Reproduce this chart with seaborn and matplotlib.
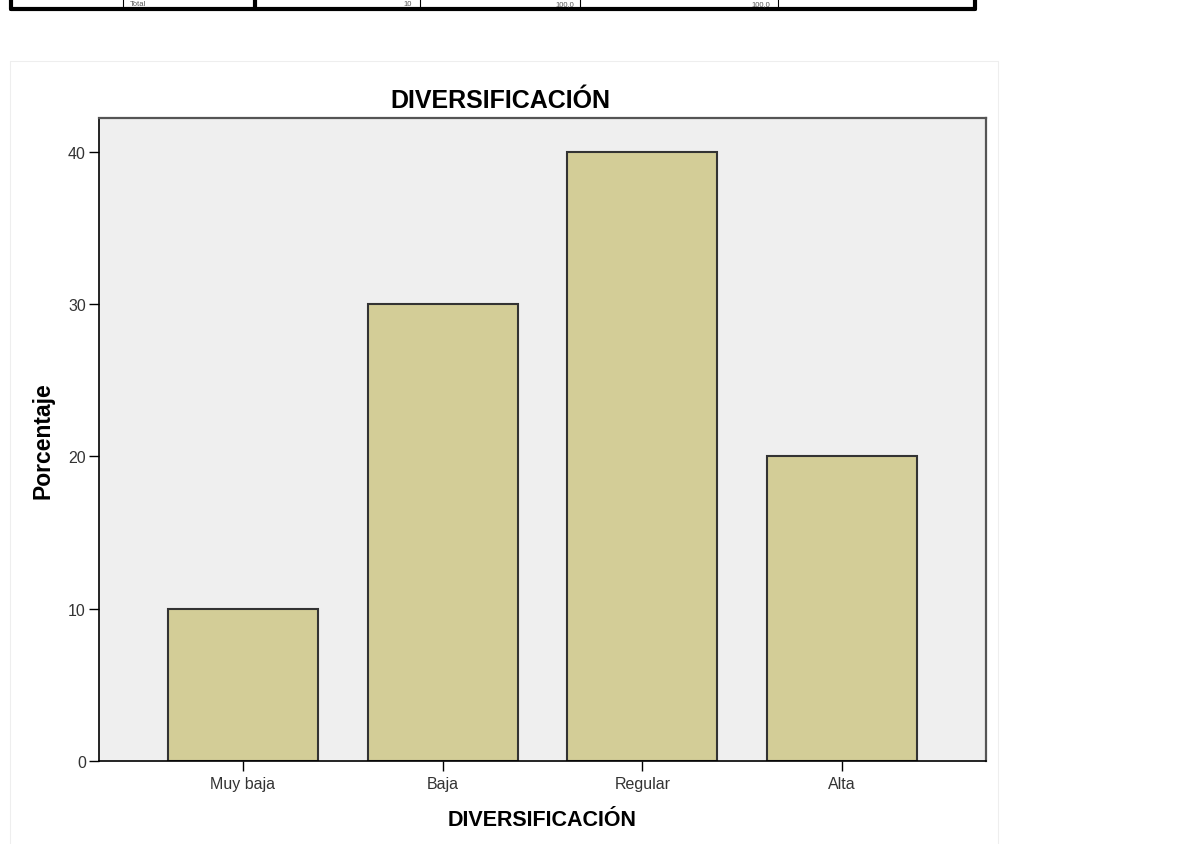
import matplotlib
matplotlib.use("Agg")
import matplotlib.pyplot as plt
from matplotlib.lines import Line2D
import seaborn as sns
import pandas as pd

# Frequency table (percent) for the DIVERSIFICACIÓN variable
categories = ["Muy baja", "Baja", "Regular", "Alta"]
percentages = [10, 30, 40, 20]
y_ticks = [0, 10, 20, 30, 40]

# Last row of the preceding frequency table, at the top of the page
table_row = ["Total", "10", "100,0", "100,0"]

df = pd.DataFrame({"categoria": categories, "porcentaje": percentages})

sns.set_theme(style="white")
plt.rcParams["font.family"] = ["Liberation Sans", "DejaVu Sans"]

fig = plt.figure(figsize=(11.81, 8.45), dpi=100)
W, H = 1181, 845


def fx(px):
    return px / W


def fy(py):
    return 1 - py / H


# Bottom edge of the table above the chart
lw_thick = 3.0
fig.add_artist(Line2D([fx(11), fx(975)], [fy(10), fy(10)], color="black", lw=lw_thick))
for xpx, lw in [(11, lw_thick), (975, lw_thick), (255, lw_thick),
                (123, 0.8), (420, 0.8), (580, 0.8), (778, 0.8)]:
    fig.add_artist(Line2D([fx(xpx), fx(xpx)], [fy(10), 1.02], color="black", lw=lw))
for txt, xpx, ha in [(table_row[0], 130, "left"), (table_row[1], 412, "right"),
                     (table_row[2], 574, "right"), (table_row[3], 770, "right")]:
    fig.text(fx(xpx), fy(4.5), txt, ha=ha, va="center", fontsize=5.5, color="#555555")

# Faint outline of the chart panel
fig.add_artist(Line2D([fx(10), fx(998)], [fy(62), fy(62)], color="#eeeeee", lw=0.8))
fig.add_artist(Line2D([fx(10), fx(10)], [fy(62), 0], color="#eeeeee", lw=0.8))
fig.add_artist(Line2D([fx(998), fx(998)], [fy(62), 0], color="#eeeeee", lw=0.8))

ax = fig.add_axes([fx(99), 1 - 762 / H, 887 / W, 643 / H])
ax.set_facecolor("#efefef")

sns.barplot(data=df, x="categoria", y="porcentaje", order=categories,
            color="#d3cd97", saturation=1, width=0.75,
            edgecolor="#333333", linewidth=1.5, ax=ax, zorder=2)

ax.set_xlim(-0.72, 3.72)
ax.set_ylim(0, 42.2)
ax.set_yticks(y_ticks)
ax.set_yticklabels([str(v) for v in y_ticks])

for side in ["left", "bottom"]:
    ax.spines[side].set_color("black")
    ax.spines[side].set_linewidth(1.2)
for side in ["top", "right"]:
    ax.spines[side].set_color("#555555")
    ax.spines[side].set_linewidth(1.6)

ax.tick_params(axis="both", which="major", direction="out", length=7.5, width=1.0,
               color="black", labelsize=11.5, labelcolor="#333333", pad=2,
               left=True, bottom=True)
ax.tick_params(axis="x", length=7.5, pad=3)

ax.set_xlabel("DIVERSIFICACIÓN", fontsize=15.5, fontweight="bold", labelpad=13, color="black")
ax.set_ylabel("Porcentaje", fontsize=16.5, fontweight="bold", labelpad=9.5, color="black")

fig.text(fx(500), fy(101), "DIVERSIFICACIÓN", ha="center", va="center",
         fontsize=18, fontweight="bold", color="black")

fig.savefig("out.png", dpi=100, facecolor="white")
